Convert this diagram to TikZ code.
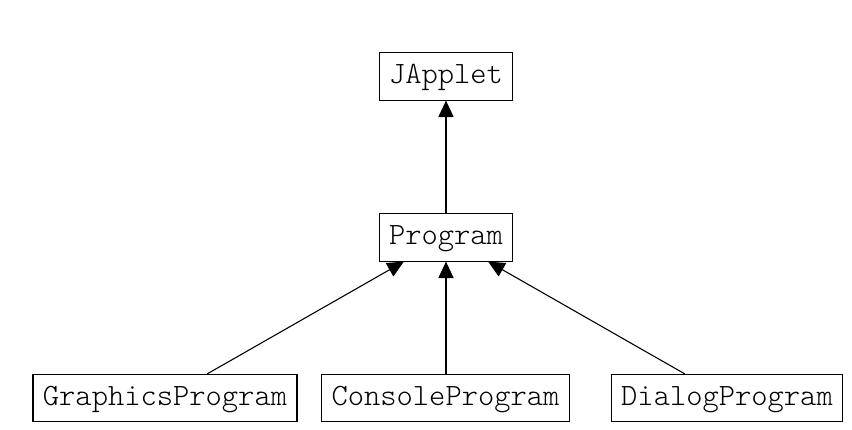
\documentclass[tikz,border=0pt]{standalone}
\usetikzlibrary{arrows.meta}
\begin{document}
\begin{tikzpicture}[x=0.3226pt,y=-0.3226pt,
  cls/.style={draw,line width=0.35pt,font=\ttfamily\fontseries{l}\selectfont,inner xsep=3.2pt,inner ysep=0pt,
    text height=6.9pt,text depth=2.2pt,minimum height=15.2pt},
  inh/.style={-{Triangle[length=5.3pt,width=4.9pt]},line width=0.35pt}]
\useasboundingbox (0,0) rectangle (852,430);
\node[cls] (japplet) at (446,76.5) {JApplet};
\node[cls] (program) at (446,237.5) {Program};
\node[cls] (graphics) at (165,398) {GraphicsProgram};
\node[cls] (console) at (445.5,398) {ConsoleProgram};
\node[cls] (dialog) at (727,398) {DialogProgram};
\draw[inh] (program) -- (japplet);
\draw[inh] (graphics) -- (program);
\draw[inh] (console.north -| program) -- (program);
\draw[inh] (dialog) -- (program);
\end{tikzpicture}
\end{document}
